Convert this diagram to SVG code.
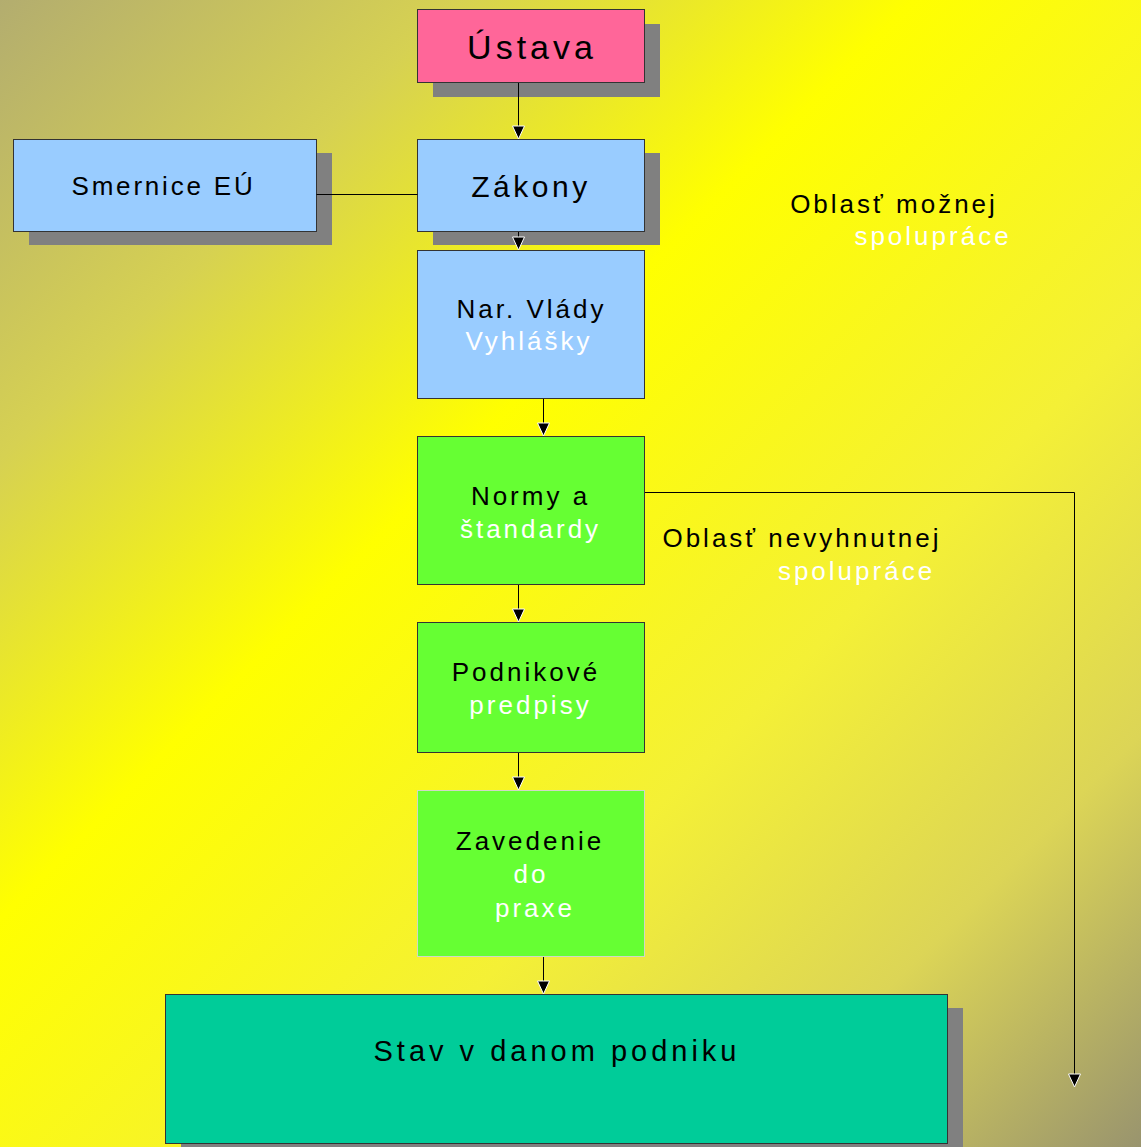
<svg xmlns="http://www.w3.org/2000/svg" width="1141" height="1147" viewBox="0 0 1141 1147">
<defs>
<linearGradient id="bg" x1="0" y1="0" x2="1" y2="1">
<stop offset="0" stop-color="#b3ad6f"/>
<stop offset="0.2" stop-color="#d6d152"/>
<stop offset="0.4" stop-color="#ffff00"/>
<stop offset="0.64" stop-color="#f4f036"/>
<stop offset="0.82" stop-color="#dcd556"/>
<stop offset="1" stop-color="#99946e"/>
</linearGradient>
<marker id="ah" markerWidth="16" markerHeight="14" refX="14" refY="7" orient="auto" markerUnits="userSpaceOnUse" viewBox="0 0 16 14">
<polygon points="1,1 14,7 1,13" fill="#000" stroke="#fff" stroke-width="1"/>
</marker>
<style>
.sh{fill:#808080}
.bx{stroke:#333;stroke-width:1}
.t{font-family:"Liberation Sans",Arial,sans-serif;font-size:26px;letter-spacing:3px;text-anchor:middle;fill:#000}
.w{fill:#fff}
.c{fill:none;stroke:#000;stroke-width:1}
</style>
</defs>
<rect x="0" y="0" width="1141" height="1147" fill="url(#bg)"/>

<g id="ustava">
<rect class="sh" x="433" y="24" width="227" height="73"/>
<rect class="bx" x="417.5" y="9.5" width="227" height="73" fill="#ff6699"/>
<text class="t" x="532" y="59" style="font-size:34px;letter-spacing:4px">Ústava</text>
</g>

<g id="smernice">
<rect class="sh" x="29" y="153" width="303" height="92"/>
<rect class="bx" x="13.5" y="139.5" width="303" height="92" fill="#99ccff"/>
<text class="t" x="163.5" y="195" style="letter-spacing:2.8px">Smernice EÚ</text>
</g>

<g id="zakony">
<rect class="sh" x="433" y="153" width="227" height="92"/>
<rect class="bx" x="417.5" y="139.5" width="227" height="92" fill="#99ccff"/>
<text class="t" x="531" y="197" style="font-size:30px;letter-spacing:3.5px">Zákony</text>
</g>

<g id="nar-vlady">
<rect class="bx" x="417.5" y="250.5" width="227" height="148" fill="#99ccff"/>
<text class="t" x="531.5" y="318">Nar. Vlády</text>
<text class="t w" x="529" y="350">Vyhlášky</text>
</g>

<g id="normy">
<rect class="bx" x="417.5" y="436.5" width="227" height="148" fill="#66ff33"/>
<text class="t" x="530.5" y="505">Normy a</text>
<text class="t w" x="530.5" y="538">štandardy</text>
</g>

<g id="podnikove">
<rect class="bx" x="417.5" y="622.5" width="227" height="130" fill="#66ff33"/>
<text class="t" x="526" y="681">Podnikové</text>
<text class="t w" x="530.5" y="714">predpisy</text>
</g>

<g id="zavedenie">
<rect x="417.5" y="790.5" width="227" height="166" fill="#66ff33" stroke="#cfd8c8" stroke-width="1"/>
<text class="t" x="530" y="850">Zavedenie</text>
<text class="t w" x="531" y="883">do</text>
<text class="t w" x="535" y="917">praxe</text>
</g>

<g id="stav">
<rect class="sh" x="181" y="1008" width="782" height="149"/>
<rect class="bx" x="165.5" y="994.5" width="782" height="149" fill="#00cc99"/>
<text class="t" x="557" y="1061" style="font-size:29px;letter-spacing:4px">Stav v danom podniku</text>
</g>

<g id="label-mozna">
<text class="t" x="894" y="213">Oblasť možnej</text>
<text class="t w" x="933" y="245">spolupráce</text>
</g>

<g id="label-nevyhnutna">
<text class="t" x="802" y="547">Oblasť nevyhnutnej</text>
<text class="t w" x="856.5" y="580">spolupráce</text>
</g>

<g id="connectors">
<line class="c" x1="316.5" y1="194.5" x2="417.5" y2="194.5"/>
<line class="c" x1="518.5" y1="83" x2="518.5" y2="139" marker-end="url(#ah)"/>
<line class="c" x1="518.5" y1="232" x2="518.5" y2="250" marker-end="url(#ah)"/>
<line class="c" x1="543.5" y1="399" x2="543.5" y2="436" marker-end="url(#ah)"/>
<line class="c" x1="518.5" y1="585" x2="518.5" y2="622" marker-end="url(#ah)"/>
<line class="c" x1="518.5" y1="753" x2="518.5" y2="790" marker-end="url(#ah)"/>
<line class="c" x1="543.5" y1="957" x2="543.5" y2="994" marker-end="url(#ah)"/>
<polyline class="c" points="645,492.5 1074.5,492.5 1074.5,1087" marker-end="url(#ah)"/>
</g>
</svg>
